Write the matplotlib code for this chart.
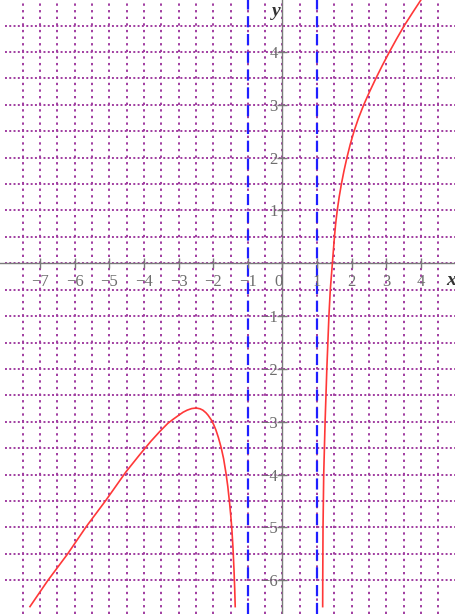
import numpy as np
import matplotlib.pyplot as plt

# Puntos (rama izquierda, x < -1)
x_izq = [-7.29, -6.78, -6.20, -5.67, -5.09, -4.52, -4.13, -3.80, -3.55, -3.31,
         -3.15, -2.98, -2.87, -2.75, -2.62, -2.49, -2.38, -2.30, -2.21, -2.15,
         -2.06, -1.99, -1.92, -1.85, -1.77, -1.70, -1.63, -1.58, -1.53, -1.49,
         -1.46, -1.43, -1.40, -1.38, -1.365]
y_izq = [-6.50, -6.01, -5.50, -4.99, -4.48, -3.95, -3.63, -3.37, -3.19, -3.03,
         -2.95, -2.87, -2.82, -2.78, -2.75, -2.74, -2.755, -2.78, -2.83, -2.875,
         -2.96, -3.05, -3.16, -3.30, -3.49, -3.70, -3.98, -4.22, -4.52, -4.80,
         -5.05, -5.38, -5.80, -6.15, -6.50]

# Rama derecha, x > 1
x_der = [1.16, 1.162, 1.17, 1.19, 1.23, 1.28, 1.295, 1.31, 1.325, 1.34,
         1.36, 1.38, 1.41, 1.44, 1.47, 1.50, 1.535, 1.58, 1.635, 1.70,
         1.775, 1.86, 1.955, 2.065, 2.195, 2.345, 2.515, 2.695, 2.885, 3.085,
         3.295, 3.515, 3.76, 4.01]
y_der = [-6.50, -6.00, -5.00, -4.00, -3.00, -2.00, -1.75, -1.50, -1.25, -1.00,
         -0.75, -0.50, -0.25, 0.00, 0.25, 0.50, 0.75, 1.00, 1.25, 1.50,
         1.75, 2.00, 2.25, 2.50, 2.75, 3.00, 3.25, 3.50, 3.75, 4.00,
         4.25, 4.50, 4.75, 5.00]

# Asintotas verticales
asintotas = [-1, 1]

ticks_x = [-7, -6, -5, -4, -3, -2, -1, 0, 1, 2, 3, 4]
ticks_y = [-6, -5, -4, -3, -2, -1, 1, 2, 3, 4]

plt.rcParams['font.family'] = ['Liberation Serif', 'DejaVu Serif']

fig = plt.figure(figsize=(4.55, 6.14), dpi=100)
ax = fig.add_axes([0, 0, 1, 1])
ax.set_xlim(-8.155, 4.98)
ax.set_ylim(-6.64, 4.985)

color_rejilla = '#a03ca0'
color_gris = '#7a7a7a'

# Rejilla punteada cada 0.5
for gx in np.arange(-7.5, 4.51, 0.5):
    ax.axvline(gx, color=color_rejilla, lw=1.4, ls=(0, (1.2, 2.2)), zorder=0)
for gy in np.arange(-6, 4.51, 0.5):
    ax.hlines(gy, -8.0, 5.0, color=color_rejilla, lw=1.4, ls=(0, (1.0, 1.2)), zorder=0)

# Ejes en el origen
for lado in ['top', 'right']:
    ax.spines[lado].set_visible(False)
for lado in ['left', 'bottom']:
    ax.spines[lado].set_position(('data', 0))
    ax.spines[lado].set_color(color_gris)
    ax.spines[lado].set_linewidth(1.0)
    ax.spines[lado].set_zorder(1)

ax.set_xticks(ticks_x)
ax.set_xticklabels([str(t).replace('-', '\u2212') for t in ticks_x])
ax.set_yticks(ticks_y)
ax.set_yticklabels([str(t).replace('-', '\u2212') for t in ticks_y])
ax.tick_params(axis='both', direction='inout', length=7, width=1.0,
               color=color_gris, labelcolor='#6e6e6e', labelsize=12)
ax.tick_params(axis='x', pad=4)
ax.tick_params(axis='y', pad=0)
for lbl in ax.get_xticklabels():
    if lbl.get_text() == '0':
        lbl.set_horizontalalignment('right')

# Asintotas (debajo de las etiquetas de los ejes)
for a in asintotas:
    ax.axvline(a, color='#1f1fff', lw=1.6, dashes=(5, 3), zorder=1.2)

# Curva
ax.plot(x_izq, y_izq, color='#ff3838', lw=1.2, zorder=3)
ax.plot(x_der, y_der, color='#ff3838', lw=1.2, zorder=3)

# Nombres de los ejes
ax.text(4.86, -0.33, 'x', style='italic', fontweight='bold', fontsize=14,
        color='#333333', ha='center', va='center')
ax.text(-0.17, 4.76, 'y', style='italic', fontweight='bold', fontsize=14,
        color='#333333', ha='center', va='center')

fig.savefig('out.png', dpi=100)
